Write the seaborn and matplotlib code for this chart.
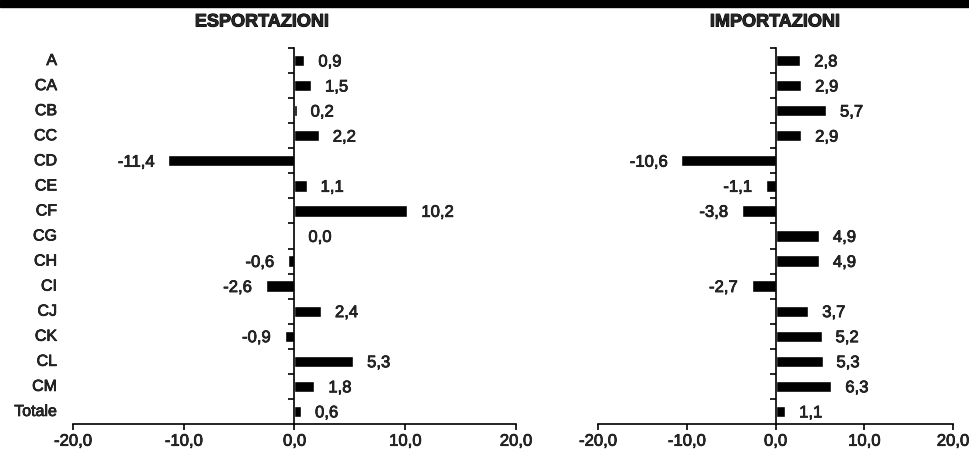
import numpy as np
import pandas as pd
import matplotlib
matplotlib.use("Agg")
import matplotlib.pyplot as plt
import matplotlib.transforms as mtransforms
import matplotlib.patheffects as pe
from matplotlib.patches import Rectangle
import seaborn as sns

categories = ["A", "CA", "CB", "CC", "CD", "CE", "CF", "CG", "CH", "CI",
              "CJ", "CK", "CL", "CM", "Totale"]
export_vals = [0.9, 1.5, 0.2, 2.2, -11.4, 1.1, 10.2, 0.0, -0.6, -2.6,
               2.4, -0.9, 5.3, 1.8, 0.6]
import_vals = [2.8, 2.9, 5.7, 2.9, -10.6, -1.1, -3.8, 4.9, 4.9, -2.7,
               3.7, 5.2, 5.3, 6.3, 1.1]
x_ticks = [-20, -10, 0, 10, 20]
x_tick_labels = ["-20,0", "-10,0", "0,0", "10,0", "20,0"]
titles = ["ESPORTAZIONI", "IMPORTAZIONI"]

sns.set_style("white")
plt.rcParams["font.family"] = ["Liberation Sans", "DejaVu Sans"]

thick = [pe.withStroke(linewidth=0.5, foreground="black")]
thick_title = [pe.withStroke(linewidth=0.7, foreground="black")]

fig = plt.figure(figsize=(9.7, 4.55), dpi=100)
H = 455.0
W = 970.0
ax_bottom = (H - 424) / H
ax_height = (424 - 48) / H
ax1 = fig.add_axes([73 / W, ax_bottom, 443 / W, ax_height])
ax2 = fig.add_axes([598 / W, ax_bottom, 355 / W, ax_height])

def fmt(v):
    return f"{v:.1f}".replace(".", ",")

for ax, vals in [(ax1, export_vals), (ax2, import_vals)]:
    df = pd.DataFrame({"cat": categories, "val": vals})
    sns.barplot(data=df, x="val", y="cat", orient="h", color="black",
                width=0.45, ax=ax, saturation=1)
    ax.set_xlim(-20, 20)
    ax.set_ylim(len(categories) - 0.5, -0.5)
    ax.set_xlabel("")
    ax.set_ylabel("")
    ax.spines["top"].set_visible(False)
    ax.spines["right"].set_visible(False)
    ax.spines["left"].set_position(("data", 0))
    for s in ["left", "bottom"]:
        ax.spines[s].set_color("black")
        ax.spines[s].set_linewidth(1.2)
    ax.set_yticks(np.arange(-0.5, len(categories) - 0.5, 1))
    ax.set_yticklabels([])
    ax.set_xticks(x_ticks)
    ax.set_xticklabels(x_tick_labels, fontsize=12)
    for lbl in ax.get_xticklabels():
        lbl.set_path_effects(thick)
    ax.tick_params(axis="y", direction="out", length=4, width=1.2, color="black", left=True)
    ax.tick_params(axis="x", direction="out", length=4, width=1.2, color="black", bottom=True, pad=3)
    for i, v in enumerate(vals):
        if v < 0:
            ax.annotate(fmt(v), xy=(v, i), xytext=(-10, -1), textcoords="offset points",
                        ha="right", va="center", fontsize=12, path_effects=thick)
        else:
            ax.annotate(fmt(v), xy=(v, i), xytext=(10, -1), textcoords="offset points",
                        ha="left", va="center", fontsize=12, path_effects=thick)

trans = mtransforms.blended_transform_factory(ax1.transAxes, ax1.transData)
for i, c in enumerate(categories):
    ax1.text((57 - 73) / 443, i, c, transform=trans, ha="right", va="center",
             fontsize=11.5, path_effects=thick)

fig.text(262 / W, 1 - 22 / H, titles[0], ha="center", va="center", fontsize=13,
         fontweight="bold", path_effects=thick_title)
fig.text(775 / W, 1 - 22 / H, titles[1], ha="center", va="center", fontsize=13,
         fontweight="bold", path_effects=thick_title)

fig.patches.append(Rectangle((0, 1 - 7 / H), 1, 7 / H, transform=fig.transFigure,
                             color="black", zorder=10))

fig.savefig("out.png", dpi=100)
